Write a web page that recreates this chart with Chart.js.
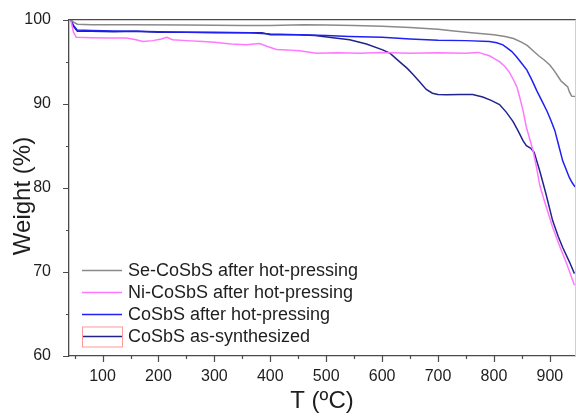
<!DOCTYPE html>
<html>
<head>
<meta charset="utf-8">
<script src="https://cdn.jsdelivr.net/npm/chart.js@4.4.0/dist/chart.umd.min.js"></script>
<style>
  html, body { margin: 0; padding: 0; background: #fff; }
  #wrap { width: 576px; height: 419px; }
</style>
</head>
<body>
<div id="wrap"><canvas id="tga"></canvas></div>
<script>
// Series labels (legend order)
const seriesNames = [
    'Se-CoSbS after hot-pressing',
    'Ni-CoSbS after hot-pressing',
    'CoSbS after hot-pressing',
    'CoSbS as-synthesized'
];
const seriesColors = ['#8a8a8a', '#ff78ff', '#2020f5', '#23238e'];

// Se-CoSbS after hot-pressing
const tSe = [43, 48, 55, 80, 150, 250, 350, 400, 460, 500, 550, 600, 650, 700, 720, 760, 800, 820, 835, 850, 860, 870, 880, 890, 900, 908, 915, 920, 927, 932, 935, 939, 945];
const wSe = [100, 99.7, 99.45, 99.4, 99.4, 99.35, 99.3, 99.3, 99.4, 99.35, 99.3, 99.2, 99.05, 98.85, 98.7, 98.45, 98.2, 98.0, 97.75, 97.3, 96.9, 96.3, 95.7, 95.2, 94.6, 93.9, 93.2, 92.7, 92.3, 92.0, 91.4, 90.9, 90.85];

// Ni-CoSbS after hot-pressing
const tNi = [43, 48, 53, 80, 110, 143, 160, 172, 190, 205, 215, 225, 250, 280, 300, 330, 357, 381, 395, 411, 430, 452, 483, 520, 560, 600, 650, 700, 750, 772, 792, 800, 810, 820, 828, 836, 841, 846, 852, 858, 864, 870, 876, 882, 890, 905, 918, 930, 944];
const wNi = [100, 98.5, 97.9, 97.85, 97.8, 97.8, 97.6, 97.4, 97.5, 97.7, 97.9, 97.6, 97.5, 97.4, 97.3, 97.1, 97.0, 97.15, 96.8, 96.45, 96.4, 96.3, 96.0, 96.05, 96.0, 96.1, 96.0, 96.05, 96.0, 96.1, 95.7, 95.4, 95.0, 94.4, 93.7, 92.7, 92.0, 90.8, 89.2, 87.2, 85.8, 84.4, 82.5, 80.3, 78.5, 75.3, 73.0, 71.0, 68.4];

// CoSbS after hot-pressing
const tHp = [43, 48, 55, 80, 120, 160, 200, 250, 300, 363, 400, 450, 500, 542, 600, 650, 700, 750, 792, 805, 816, 824, 832, 840, 846, 852, 859, 868, 877, 886, 895, 902, 909, 916, 923, 929, 935, 940, 945];
const wHp = [100, 99.3, 98.75, 98.7, 98.65, 98.6, 98.55, 98.5, 98.5, 98.45, 98.3, 98.2, 98.1, 98.0, 97.9, 97.7, 97.55, 97.5, 97.4, 97.25, 97.0, 96.6, 96.2, 95.6, 95.1, 94.6, 94.0, 92.8, 91.5, 90.3, 89.1, 88.0, 86.8, 85.0, 83.2, 82.2, 81.2, 80.6, 80.1];

// CoSbS as-synthesized
const tAs = [43, 48, 55, 80, 120, 160, 200, 250, 300, 363, 385, 400, 450, 480, 512, 542, 572, 601, 614, 631, 645, 655, 667, 679, 690, 700, 715, 740, 762, 780, 795, 810, 822, 834, 843, 852, 858, 866, 872, 882, 893, 905, 915, 923, 935, 944];
const wAs = [100, 99.2, 98.6, 98.6, 98.55, 98.6, 98.5, 98.5, 98.45, 98.45, 98.45, 98.2, 98.2, 98.1, 97.85, 97.6, 97.1, 96.4, 96.0, 95.0, 94.2, 93.5, 92.6, 91.7, 91.25, 91.1, 91.05, 91.1, 91.1, 90.8, 90.4, 89.9, 89.0, 87.9, 86.8, 85.6, 85.0, 84.7, 84.2, 82.0, 79.3, 76.1, 74.2, 72.9, 71.2, 69.8];

// Axis ticks
const xTicks = [100, 200, 300, 400, 500, 600, 700, 800, 900];
const xMinor = [50, 150, 250, 350, 450, 550, 650, 750, 850];
const yTicks = [60, 70, 80, 90, 100];
const yMinor = [65, 75, 85, 95];

const FONT = "'Liberation Sans', Arial, sans-serif";
const INK = '#1e1e1e';
const AXIS = '#4a4a4a';

function toPoints(ts, ws) {
    return ts.map((t, i) => ({ x: t, y: ws[i] }));
}

const seriesData = [
    toPoints(tSe, wSe),
    toPoints(tNi, wNi),
    toPoints(tHp, wHp),
    toPoints(tAs, wAs)
];

// frame, minor/major tick marks, legend and y title
const decorPlugin = {
    id: 'decor',
    afterDraw(chart) {
        const ctx = chart.ctx;
        const area = chart.chartArea;
        const xs = chart.scales.x;
        const ys = chart.scales.y;
        ctx.save();

        // top frame line + faint right edge
        ctx.strokeStyle = AXIS;
        ctx.lineWidth = 1.3;
        ctx.beginPath();
        ctx.moveTo(area.left, area.top);
        ctx.lineTo(area.right + 1, area.top);
        ctx.stroke();
        ctx.strokeStyle = '#d0d0d0';
        ctx.lineWidth = 1;
        ctx.beginPath();
        ctx.moveTo(area.right + 0.5, area.top);
        ctx.lineTo(area.right + 0.5, area.bottom);
        ctx.stroke();

        // tick marks, outward
        ctx.strokeStyle = AXIS;
        ctx.lineWidth = 1.2;
        ctx.beginPath();
        xTicks.forEach(v => {
            const px = Math.round(xs.getPixelForValue(v)) + 0.5;
            ctx.moveTo(px, area.bottom); ctx.lineTo(px, area.bottom + 6);
        });
        xMinor.forEach(v => {
            const px = Math.round(xs.getPixelForValue(v)) + 0.5;
            ctx.moveTo(px, area.bottom); ctx.lineTo(px, area.bottom + 3);
        });
        yTicks.forEach(v => {
            const py = Math.round(ys.getPixelForValue(v)) + 0.5;
            ctx.moveTo(area.left, py); ctx.lineTo(area.left - 6, py);
        });
        yMinor.forEach(v => {
            const py = Math.round(ys.getPixelForValue(v)) + 0.5;
            ctx.moveTo(area.left, py); ctx.lineTo(area.left - 3, py);
        });
        ctx.stroke();

        // legend, bottom-left inside the plot
        const n = chart.data.datasets.length;
        const lx0 = area.left + 13;
        const lx1 = lx0 + 40;
        ctx.font = '18px ' + FONT;
        ctx.textBaseline = 'middle';
        ctx.textAlign = 'left';
        chart.data.datasets.forEach((ds, i) => {
            const ly = area.bottom - 19.5 - (n - 1 - i) * 22;
            ctx.strokeStyle = ds.borderColor;
            ctx.lineWidth = 1.6;
            ctx.beginPath();
            ctx.moveTo(lx0, ly); ctx.lineTo(lx1, ly);
            ctx.stroke();
            ctx.fillStyle = INK;
            ctx.fillText(ds.label, lx1 + 6, ly + 1);
            if (i === n - 1) {
                ctx.strokeStyle = '#ff9a9a';
                ctx.lineWidth = 1;
                ctx.strokeRect(lx0 + 0.5, ly - 9.5, 40, 20);
            }
        });

        // y axis title
        ctx.translate(23, 196);
        ctx.rotate(-Math.PI / 2);
        ctx.font = '24px ' + FONT;
        ctx.textAlign = 'center';
        ctx.fillStyle = INK;
        ctx.fillText('Weight (%)', 0, 0);
        ctx.restore();
    }
};

const tgaChart = new Chart(document.getElementById('tga'), {
    type: 'scatter',
    data: {
        datasets: seriesNames.map((name, i) => ({
            label: name,
            data: seriesData[i],
            showLine: true,
            borderColor: seriesColors[i],
            backgroundColor: seriesColors[i],
            borderWidth: 1.5,
            pointRadius: 0,
            tension: 0
        }))
    },
    options: {
        responsive: true,
        maintainAspectRatio: false,
        animation: false,
        events: [],
        layout: { padding: { top: 18, right: 1, left: 0, bottom: 0 } },
        plugins: {
            legend: { display: false },
            tooltip: { enabled: false }
        },
        scales: {
            x: {
                type: 'linear',
                min: 40,
                max: 945,
                afterBuildTicks: scale => { scale.ticks = xTicks.map(v => ({ value: v })); },
                afterFit: scale => { scale.height = 63; },
                grid: { display: false },
                border: { display: true, color: AXIS, width: 1.3 },
                ticks: {
                    color: INK,
                    padding: 3,
                    maxRotation: 0,
                    font: { family: FONT, size: 16 }
                },
                title: {
                    display: true,
                    text: 'T (ºC)',
                    color: INK,
                    font: { family: FONT, size: 24 },
                    padding: { top: 0, bottom: 3 }
                }
            },
            y: {
                min: 60,
                max: 100,
                afterBuildTicks: scale => { scale.ticks = yTicks.map(v => ({ value: v })); },
                afterFit: scale => { scale.width = 69; },
                grid: { display: false },
                border: { display: true, color: AXIS, width: 1.3 },
                ticks: {
                    color: INK,
                    padding: 10,
                    font: { family: FONT, size: 16 }
                }
            }
        }
    },
    plugins: [decorPlugin]
});
</script>
</body>
</html>
